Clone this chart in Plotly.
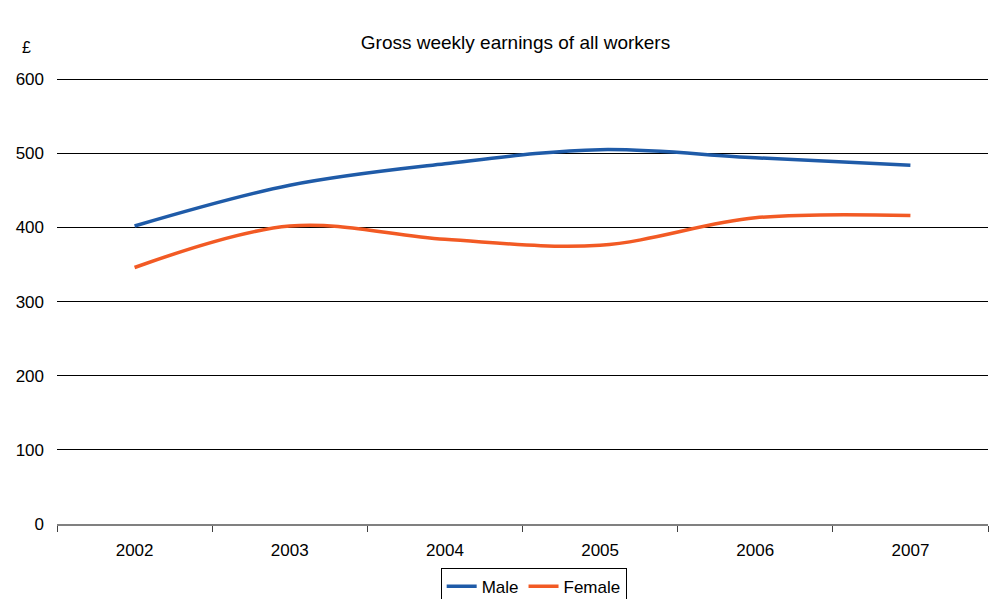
import plotly.graph_objects as go

years = ["2002", "2003", "2004", "2005", "2006", "2007"]
male = [402, 457, 486, 505, 494, 484]
female = [346, 402, 384, 376, 413, 416]

FONT = "Liberation Sans, Arial, sans-serif"

fig = go.Figure()
fig.add_trace(go.Scatter(
    x=years, y=male, name="Male", mode="lines",
    line=dict(color="#1F5BA8", width=3.5, shape="spline", smoothing=1.0),
))
fig.add_trace(go.Scatter(
    x=years, y=female, name="Female", mode="lines",
    line=dict(color="#F25A24", width=3.5, shape="spline", smoothing=1.0),
))

fig.update_layout(
    width=998, height=599,
    margin=dict(l=57, r=10, t=77, b=75, autoexpand=False),
    paper_bgcolor="white", plot_bgcolor="white",
    font=dict(family=FONT, size=17, color="black"),
    title=dict(text="Gross weekly earnings of all workers",
               x=515.5 / 998, xanchor="center",
               y=1 - 42 / 599, yanchor="middle",
               font=dict(family=FONT, size=19, color="black")),
    showlegend=True,
    legend=dict(orientation="h", x=0.512, xanchor="center",
                y=-0.098, yanchor="top",
                bordercolor="black", borderwidth=1,
                font=dict(family=FONT, size=17, color="black"),
                itemwidth=30, tracegroupgap=0),
    annotations=[dict(text="£", xref="paper", yref="paper",
                      x=-31 / 931, y=1 + 29 / 447, xanchor="center",
                      yanchor="middle", showarrow=False,
                      font=dict(family=FONT, size=16, color="black"))],
)

fig.update_xaxes(
    type="category", range=[-0.5, 5.5], automargin=False,
    showgrid=False, showline=True, linecolor="#808080", linewidth=2,
    ticks="outside", tickson="boundaries", ticklen=6,
    tickcolor="#404040", tickwidth=1,
    ticklabelstandoff=10,
    tickfont=dict(family=FONT, size=17, color="black"),
)
fig.update_yaxes(
    range=[0, 603], dtick=100, tick0=0, automargin=False,
    showgrid=True, gridcolor="black", gridwidth=1,
    zeroline=False, showline=False, ticks="",
    ticklabelstandoff=12,
    tickfont=dict(family=FONT, size=17, color="black"),
)

fig.write_html("out.html")
